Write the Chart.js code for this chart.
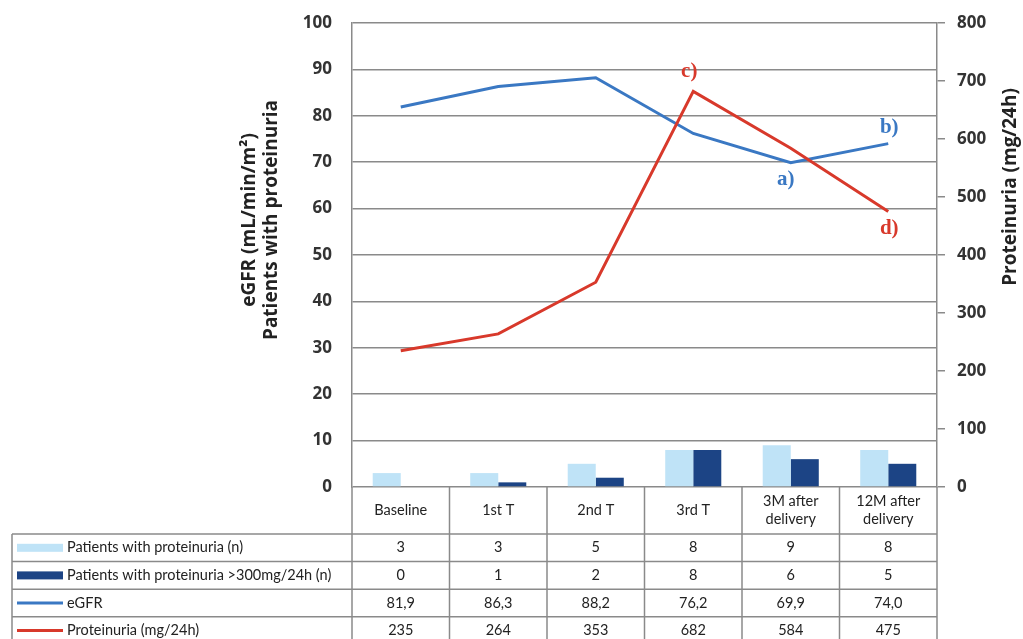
<!DOCTYPE html>
<html>
<head>
<meta charset="utf-8">
<script src="https://cdn.jsdelivr.net/npm/chart.js@4/dist/chart.umd.min.js"></script>
<style>
  html, body { margin: 0; padding: 0; background: #fff; }
  #wrap { width: 1023px; height: 639px; position: relative; }
</style>
</head>
<body>
<div id="wrap"><canvas id="chart" width="1023" height="639"></canvas></div>
<script>
// data
const categories = [['Baseline'], ['1st T'], ['2nd T'], ['3rd T'], ['3M after', 'delivery'], ['12M after', 'delivery']];
const patientsWithProt = [3, 3, 5, 8, 9, 8];
const patientsOver300 = [0, 1, 2, 8, 6, 5];
const egfr = [81.9, 86.3, 88.2, 76.2, 69.9, 74.0];
const proteinuria = [235, 264, 353, 682, 584, 475];
const leftTicks = [0, 10, 20, 30, 40, 50, 60, 70, 80, 90, 100];
const rightTicks = [0, 100, 200, 300, 400, 500, 600, 700, 800];

const LIGHT = '#bfe3f7';
const DARK = '#1c4485';
const BLUE = '#3a78c3';
const RED = '#d8392b';
const GRID = '#8a8a8a';

function fmt(v, dec) {
    return dec ? v.toFixed(dec).replace('.', ',') : String(v);
}

// table under the plot, axis titles and the a)-d) marks
const extras = {
    id: 'extras',
    afterDraw(chart) {
        const ctx = chart.ctx;
        const a = chart.chartArea;
        const n = categories.length;
        const cw = (a.right - a.left) / n;
        const tableLeft = 12;
        const headBottom = 534;
        const rowH = 27.6;

        ctx.save();
        ctx.strokeStyle = GRID;
        ctx.lineWidth = 1.5;
        // vertical lines of the table
        for (let i = 0; i <= n; i++) {
            const x = a.left + i * cw;
            ctx.beginPath();
            ctx.moveTo(x, a.bottom);
            ctx.lineTo(x, 639);
            ctx.stroke();
        }
        ctx.beginPath();
        ctx.moveTo(tableLeft, headBottom);
        ctx.lineTo(tableLeft, 639);
        ctx.stroke();
        for (let r = 0; r < 4; r++) {
            const y = headBottom + r * rowH;
            ctx.beginPath();
            ctx.moveTo(tableLeft, y);
            ctx.lineTo(a.right, y);
            ctx.stroke();
        }

        // header
        ctx.fillStyle = '#222';
        ctx.font = '14.5px Lato';
        ctx.textAlign = 'center';
        ctx.textBaseline = 'middle';
        categories.forEach((lab, i) => {
            const cx = a.left + (i + 0.5) * cw;
            const mid = (a.bottom + headBottom) / 2;
            lab.forEach((line, j) => {
                ctx.fillText(line, cx, mid + (j - (lab.length - 1) / 2) * 18);
            });
        });

        // rows
        chart.data.datasets.forEach((ds, r) => {
            const cy = headBottom + (r + 0.5) * rowH;
            if (ds.type === 'bar') {
                ctx.fillStyle = ds.backgroundColor;
                ctx.fillRect(17, cy - 4, 46, 8);
            } else {
                ctx.strokeStyle = ds.borderColor;
                ctx.lineWidth = 3;
                ctx.beginPath();
                ctx.moveTo(17, cy);
                ctx.lineTo(63, cy);
                ctx.stroke();
            }
            ctx.fillStyle = '#222';
            ctx.font = '14.5px Lato';
            ctx.textAlign = 'left';
            ctx.fillText(ds.label, 67, cy);
            ctx.textAlign = 'center';
            ds.data.forEach((v, i) => {
                ctx.fillText(fmt(v, ds.decimals), a.left + (i + 0.5) * cw, cy);
            });
        });

        // axis titles
        ctx.fillStyle = '#222';
        ctx.font = 'bold 19px "Open Sans"';
        ctx.textAlign = 'center';
        ctx.save();
        ctx.translate(250, 220);
        ctx.rotate(-Math.PI / 2);
        ctx.fillText('eGFR (mL/min/m²)', 0, 0);
        ctx.fillText('Patients with proteinuria', 0, 22);
        ctx.restore();
        ctx.save();
        ctx.translate(1011, 187);
        ctx.rotate(-Math.PI / 2);
        ctx.fillText('Proteinuria (mg/24h)', 0, 0);
        ctx.restore();

        // point marks
        const x = chart.scales.x, yl = chart.scales.y, yr = chart.scales.y1;
        ctx.font = 'bold 21px "Liberation Serif"';
        ctx.fillStyle = BLUE;
        ctx.fillText('a)', x.getPixelForValue(4) - 5, yl.getPixelForValue(egfr[4]) + 17);
        ctx.fillText('b)', x.getPixelForValue(5) + 1, yl.getPixelForValue(egfr[5]) - 16);
        ctx.fillStyle = RED;
        ctx.fillText('c)', x.getPixelForValue(3) - 4, yr.getPixelForValue(proteinuria[3]) - 20);
        ctx.fillText('d)', x.getPixelForValue(5) + 1, yr.getPixelForValue(proteinuria[5]) + 17);
        ctx.restore();
    }
};

function fitY(width) {
    return s => {
        s.width = width;
        s.paddingTop = 0;
        s.paddingBottom = 0;
    };
}

new Chart(document.getElementById('chart'), {
    data: {
        labels: categories,
        datasets: [
            {
                type: 'bar', label: 'Patients with proteinuria (n)', data: patientsWithProt,
                backgroundColor: LIGHT, yAxisID: 'y', order: 2,
                categoryPercentage: 0.575, barPercentage: 1.0
            },
            {
                type: 'bar', label: 'Patients with proteinuria >300mg/24h (n)', data: patientsOver300,
                backgroundColor: DARK, yAxisID: 'y', order: 2,
                categoryPercentage: 0.575, barPercentage: 1.0
            },
            {
                type: 'line', label: 'eGFR', data: egfr, decimals: 1,
                borderColor: BLUE, borderWidth: 3, pointRadius: 0, yAxisID: 'y', order: 1
            },
            {
                type: 'line', label: 'Proteinuria (mg/24h)', data: proteinuria,
                borderColor: RED, borderWidth: 3, pointRadius: 0, yAxisID: 'y1', order: 0
            }
        ]
    },
    options: {
        responsive: false,
        animation: false,
        layout: { padding: { top: 23, bottom: 152, left: 0, right: 0 } },
        plugins: { legend: { display: false }, tooltip: { enabled: false } },
        scales: {
            x: { display: false, offset: true },
            y: {
                position: 'left', min: 0, max: 100,
                afterBuildTicks: s => { s.ticks = leftTicks.map(v => ({ value: v })); },
                afterFit: fitY(352),
                grid: { color: GRID, lineWidth: 1.5, tickLength: 0 },
                border: { color: GRID, width: 1.5 },
                ticks: { color: '#333', padding: 20, font: { family: 'Open Sans', weight: 'bold', size: 17 } }
            },
            y1: {
                position: 'right', min: 0, max: 800,
                afterBuildTicks: s => { s.ticks = rightTicks.map(v => ({ value: v })); },
                afterFit: fitY(86),
                grid: { drawOnChartArea: false, color: GRID, lineWidth: 1.5, tickLength: 8 },
                border: { color: GRID, width: 1.5 },
                ticks: { color: '#333', padding: 12, font: { family: 'Open Sans', weight: 'bold', size: 17 } }
            }
        }
    },
    plugins: [extras]
});
</script>
</body>
</html>
